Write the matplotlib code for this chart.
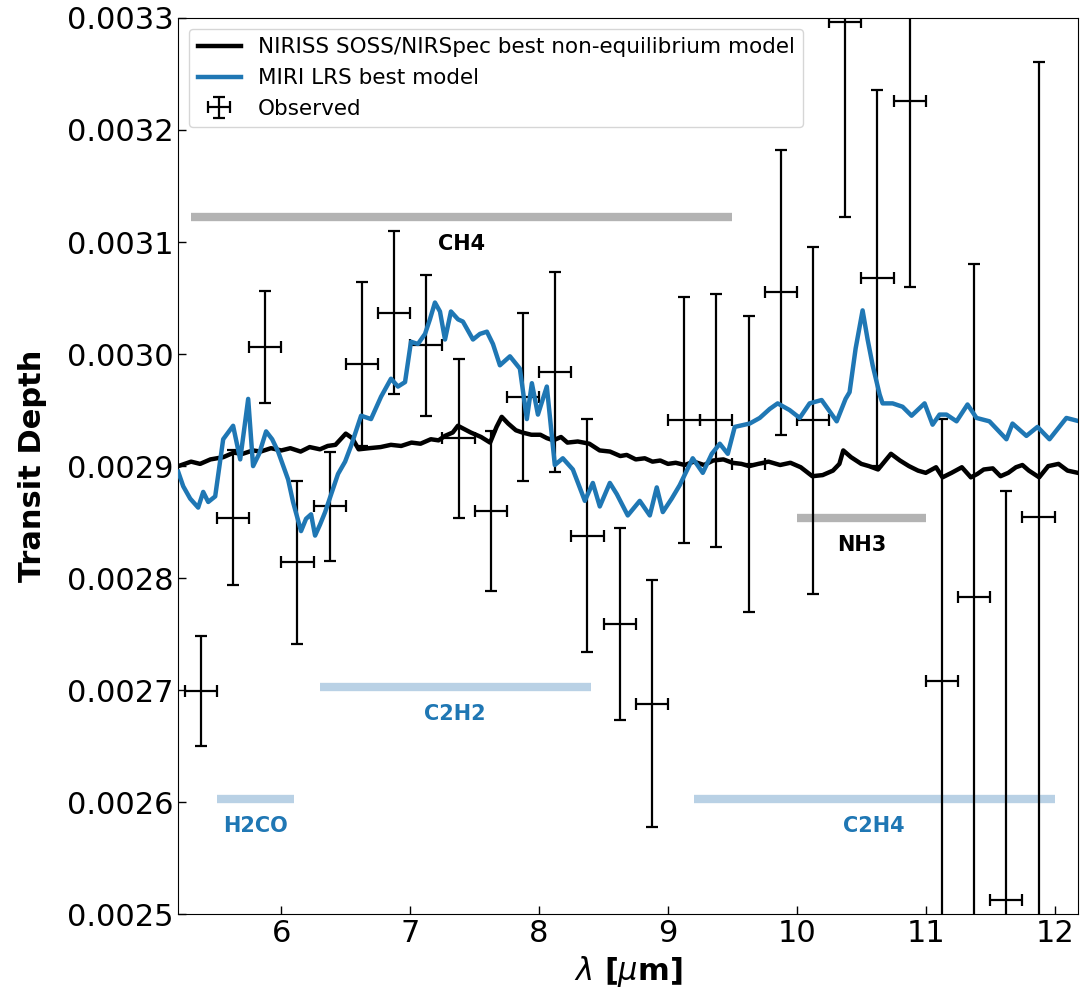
import numpy as np
import matplotlib
matplotlib.use('Agg')
import matplotlib.pyplot as plt

# observed MIRI LRS spectrum (depth in ppm)
obs_wl = [5.375, 5.625, 5.875, 6.125, 6.375, 6.625, 6.875, 7.125, 7.375,
          7.625, 7.875, 8.125, 8.375, 8.625, 8.875, 9.125, 9.375, 9.625,
          9.875, 10.125, 10.375, 10.625, 10.875, 11.125, 11.375, 11.625, 11.875]
obs_depth = [2699, 2854, 3006, 2814, 2864, 2991, 3037, 3008, 2925,
             2860, 2962, 2984, 2838, 2759, 2688, 2941, 2941, 2902,
             3055, 2941, 3296, 3068, 3226, 2708, 2783, 2513, 2855]
obs_err = [49, 60, 50, 73, 49, 73, 73, 63, 71,
           71, 75, 89, 104, 86, 110, 110, 113, 132,
           127, 155, 174, 168, 166, 234, 297, 365, 406]
obs_binhalf = 0.125

# NIRISS SOSS/NIRSpec non-equilibrium model
niriss_wl = [5.20, 5.30, 5.37, 5.45, 5.55, 5.63, 5.70, 5.78, 5.84, 5.92, 6.00,
             6.07, 6.15, 6.22, 6.30, 6.36, 6.42, 6.50, 6.55, 6.60, 6.68, 6.77,
             6.85, 6.93, 7.01, 7.08, 7.16, 7.22, 7.27, 7.33, 7.37, 7.42, 7.47,
             7.55, 7.62, 7.67, 7.71, 7.76, 7.82, 7.87, 7.94, 8.01, 8.06, 8.11,
             8.17, 8.22, 8.30, 8.39, 8.47, 8.55, 8.63, 8.68, 8.75, 8.82, 8.88,
             8.94, 9.00, 9.06, 9.13, 9.20, 9.28, 9.35, 9.43, 9.50, 9.57, 9.63,
             9.70, 9.78, 9.87, 9.95, 10.03, 10.12, 10.20, 10.28, 10.33, 10.36,
             10.42, 10.50, 10.56, 10.63, 10.68, 10.73, 10.80, 10.87, 10.94,
             11.00, 11.08, 11.13, 11.20, 11.28, 11.35, 11.40, 11.45, 11.52,
             11.58, 11.64, 11.70, 11.75, 11.80, 11.88, 11.95, 12.03, 12.10, 12.18]
niriss_depth = [2900, 2904, 2902, 2906, 2908, 2912, 2911, 2914, 2913, 2916, 2914,
                2916, 2913, 2917, 2915, 2918, 2919, 2929, 2925, 2915, 2916, 2917,
                2919, 2918, 2921, 2920, 2924, 2923, 2927, 2930, 2936, 2933, 2930,
                2926, 2921, 2935, 2944, 2938, 2932, 2930, 2928, 2928, 2925, 2923,
                2926, 2921, 2922, 2920, 2914, 2913, 2909, 2910, 2906, 2907, 2904,
                2905, 2902, 2903, 2901, 2904, 2901, 2905, 2906, 2903, 2902, 2900,
                2902, 2904, 2901, 2903, 2899, 2891, 2892, 2896, 2902, 2914,
                2908, 2902, 2900, 2897, 2904, 2911, 2905, 2900, 2896,
                2894, 2899, 2890, 2894, 2899, 2890, 2893, 2897, 2898,
                2891, 2894, 2899, 2901, 2896, 2890, 2900, 2902, 2896, 2894]

# MIRI LRS best model
miri_wl = [5.200, 5.239, 5.293, 5.355, 5.394, 5.433, 5.487, 5.549, 5.626, 5.681,
           5.743, 5.781, 5.828, 5.882, 5.929, 5.975, 6.053, 6.091, 6.153, 6.192,
           6.231, 6.262, 6.301, 6.340, 6.440, 6.495, 6.541, 6.619, 6.696, 6.774,
           6.851, 6.905, 6.960, 7.006, 7.060, 7.115, 7.153, 7.192, 7.231, 7.270,
           7.316, 7.371, 7.409, 7.487, 7.541, 7.595, 7.642, 7.696, 7.774, 7.851,
           7.905, 7.944, 7.991, 8.060, 8.122, 8.184, 8.262, 8.355, 8.417, 8.471,
           8.549, 8.603, 8.688, 8.781, 8.859, 8.913, 8.960, 9.029, 9.091, 9.192,
           9.270, 9.340, 9.402, 9.464, 9.518, 9.634, 9.712, 9.789, 9.851, 9.944,
           10.022, 10.099, 10.192, 10.309, 10.378, 10.409, 10.456, 10.510, 10.549,
           10.588, 10.642, 10.665, 10.743, 10.820, 10.890, 10.991, 11.053, 11.107,
           11.161, 11.239, 11.324, 11.394, 11.494, 11.626, 11.673, 11.781, 11.867,
           11.960, 12.091, 12.192]
miri_depth = [2895, 2882, 2871, 2863, 2877, 2868, 2873, 2924, 2936, 2906,
              2960, 2900, 2911, 2931, 2924, 2913, 2888, 2868, 2842, 2853,
              2857, 2838, 2848, 2859, 2893, 2904, 2918, 2945, 2942, 2962,
              2978, 2971, 2975, 3011, 3009, 3018, 3031, 3046, 3038, 3013,
              3038, 3031, 3029, 3013, 3018, 3020, 3009, 2990, 2998, 2987,
              2942, 2974, 2946, 2971, 2901, 2907, 2897, 2869, 2885, 2864,
              2885, 2875, 2856, 2869, 2856, 2881, 2859, 2871, 2883, 2907,
              2894, 2911, 2920, 2911, 2935, 2938, 2943, 2951, 2956, 2950,
              2943, 2956, 2959, 2940, 2960, 2966, 3005, 3039, 3013,
              2990, 2964, 2956, 2956, 2953, 2945, 2956, 2937, 2946,
              2946, 2940, 2955, 2943, 2940, 2924, 2938, 2927, 2935,
              2924, 2943, 2940]

# absorbing species bands
mol_names = ['CH4', 'NH3', 'C2H2', 'H2CO', 'C2H4']
mol_start = [5.3, 10.0, 6.3, 5.5, 9.2]
mol_end = [9.5, 11.0, 8.4, 6.1, 12.0]
mol_level = [3122, 2854, 2703, 2603, 2603]
mol_colors = ['#b3b3b3', '#b3b3b3', '#b9d1e5', '#b9d1e5', '#b9d1e5']
mol_text_colors = ['black', 'black', '#1f77b4', '#1f77b4', '#1f77b4']

ppm = 1e-6

fig = plt.figure(figsize=(10.8, 9.96), dpi=100)
ax = fig.add_axes([0.165, 0.082, 0.833, 0.9])

ax.plot(niriss_wl, np.array(niriss_depth) * ppm, '-', color='black', linewidth=3.2,
        label='NIRISS SOSS/NIRSpec best non-equilibrium model', zorder=3)
ax.plot(miri_wl, np.array(miri_depth) * ppm, '-', color='#1f77b4', linewidth=3.2,
        label='MIRI LRS best model', zorder=3)
ax.errorbar(obs_wl, np.array(obs_depth) * ppm, yerr=np.array(obs_err) * ppm,
            xerr=obs_binhalf, fmt='none', ecolor='black', elinewidth=1.6,
            capsize=4, capthick=1.6, label='Observed', zorder=2)

for name, x0, x1, lev, c, tc in zip(mol_names, mol_start, mol_end, mol_level,
                                    mol_colors, mol_text_colors):
    ax.hlines(lev * ppm, x0, x1, colors=c, linewidth=6, zorder=1)
    ax.text((x0 + x1) / 2, (lev - 24) * ppm, name, color=tc, fontsize=15,
            fontweight='bold', ha='center', va='center')

ax.set_xlim(5.2, 12.18)
ax.set_ylim(0.0025, 0.0033)
ax.set_yticks(np.arange(0.0025, 0.00331, 0.0001))
ax.tick_params(direction='in', labelsize=22, length=6, width=1)
ax.set_xlabel(r'$\lambda$ [$\mu$m]', fontsize=22, fontweight='bold')
ax.set_ylabel('Transit Depth', fontsize=22, fontweight='bold', labelpad=14)
ax.legend(loc='upper left', fontsize=15.5)

fig.savefig('out.png', dpi=100)
